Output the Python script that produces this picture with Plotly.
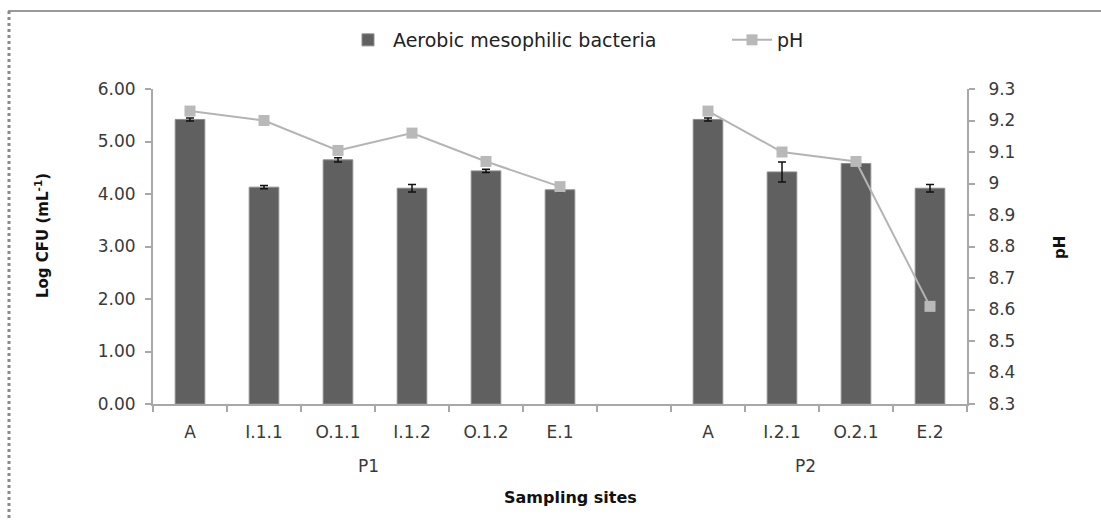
import plotly.graph_objects as go

# ---- data ----
categories = ["A", "I.1.1", "O.1.1", "I.1.2", "O.1.2", "E.1", "", "A", "I.2.1", "O.2.1", "E.2"]
bacteria = [5.42, 4.13, 4.65, 4.11, 4.44, 4.08, None, 5.42, 4.42, 4.58, 4.11]
bacteria_err = [0.03, 0.03, 0.04, 0.07, 0.03, 0.03, None, 0.03, 0.19, 0.04, 0.07]
ph = [9.23, 9.20, 9.105, 9.16, 9.07, 8.99, None, 9.23, 9.10, 9.07, 8.61]
left_ticks = [0, 1, 2, 3, 4, 5, 6]
ph_ticks = [8.3, 8.4, 8.5, 8.6, 8.7, 8.8, 8.9, 9.0, 9.1, 9.2, 9.3]
ph_tick_labels = ["8.3", "8.4", "8.5", "8.6", "8.7", "8.8", "8.9", "9", "9.1", "9.2", "9.3"]
group_labels = ["P1", "P2"]

xpos = list(range(len(categories)))
label_pos = [i for i, c in zip(xpos, categories) if c]
label_text = [c for c in categories if c]
boundaries = [i - 0.5 for i in range(len(categories) + 1)]

# ---- layout geometry (pixels) ----
W_PX, H_PX = 1101, 520
L, R, T, B = 153, 134, 89, 116
PW = W_PX - L - R
PH = H_PX - T - B


def px_x(px):
    return (px - L) / PW


def px_y(py):
    return (H_PX - B - py) / PH


fig = go.Figure()
fig.add_trace(go.Bar(
    x=xpos, y=bacteria, name="Aerobic mesophilic bacteria", legend="legend",
    width=0.4,
    marker=dict(color="#606060", line=dict(color="#8c8c8c", width=1)),
    error_y=dict(type="data", array=bacteria_err, visible=True,
                 color="#111111", thickness=1.5, width=4),
))
fig.add_trace(go.Scatter(
    x=xpos, y=ph, name="pH", yaxis="y2", mode="lines+markers", legend="legend2",
    connectgaps=False,
    line=dict(color="#b4b4b4", width=2),
    marker=dict(symbol="square", size=11, color="#b9b9b9"),
))

tick_font = dict(family="DejaVu Sans", size=17, color="#3a3a3a")
legend_font = dict(family="DejaVu Sans", size=19, color="#222222")
axis_color = "#a8a8a8"

fig.update_layout(
    width=W_PX, height=H_PX,
    margin=dict(l=L, r=R, t=T, b=B),
    paper_bgcolor="white", plot_bgcolor="white",
    showlegend=True,
    legend=dict(orientation="h", x=px_x(343), y=px_y(40), xanchor="left", yanchor="middle",
                font=legend_font, itemwidth=40),
    legend2=dict(orientation="h", x=px_x(727), y=px_y(40), xanchor="left", yanchor="middle",
                 font=legend_font, itemwidth=40),
    bargap=0.6,
    xaxis=dict(
        range=[-0.5, len(categories) - 0.5],
        tickmode="array", tickvals=label_pos, ticktext=label_text,
        ticks="", showgrid=False, zeroline=False,
        showline=True, linecolor=axis_color, linewidth=2,
        tickfont=tick_font, ticklabelstandoff=12,
        minor=dict(tickmode="array", tickvals=boundaries, ticks="outside",
                   ticklen=6, tickcolor=axis_color, tickwidth=2, showgrid=False),
    ),
    yaxis=dict(
        range=[0, 6], tickmode="array", tickvals=left_ticks, tickformat=".2f",
        showgrid=False, zeroline=False,
        showline=True, linecolor=axis_color, linewidth=2,
        ticks="outside", ticklen=6, tickcolor=axis_color, tickwidth=2,
        tickfont=tick_font, ticklabelstandoff=6,
    ),
    yaxis2=dict(
        range=[8.3, 9.3], overlaying="y", side="right",
        tickmode="array", tickvals=ph_ticks, ticktext=ph_tick_labels,
        showgrid=False, zeroline=False,
        showline=True, linecolor=axis_color, linewidth=2,
        ticks="outside", ticklen=6, tickcolor=axis_color, tickwidth=2,
        tickfont=tick_font, ticklabelstandoff=10,
    ),
)

title_font = dict(family="DejaVu Sans", size=15, color="#111111")
annotations = [
    dict(text="<b>Log CFU (mL<sup>-1</sup>)</b>", x=px_x(42), y=px_y(236), textangle=-90, font=title_font),
    dict(text="<b>pH</b>", x=px_x(1060), y=px_y(248), textangle=-90, font=title_font),
    dict(text="<b>Sampling sites</b>", x=px_x(570), y=px_y(497), font=dict(family="DejaVu Sans", size=16, color="#111111")),
    dict(text=group_labels[0], x=px_x(368), y=px_y(466), font=tick_font),
    dict(text=group_labels[1], x=px_x(805), y=px_y(466), font=tick_font),
]
for a in annotations:
    fig.add_annotation(xref="paper", yref="paper", showarrow=False,
                       xanchor="center", yanchor="middle", **a)

# outer frame (top and left edges visible in the reference)
fig.add_shape(type="line", xref="paper", yref="paper",
              x0=px_x(8), x1=px_x(1101), y0=px_y(11), y1=px_y(11),
              line=dict(color="#9a9a9a", width=2))
fig.add_shape(type="line", xref="paper", yref="paper",
              x0=px_x(9), x1=px_x(9), y0=px_y(11), y1=px_y(520),
              line=dict(color="#8a8a8a", width=3, dash="dot"))

fig.write_html("out.html")
